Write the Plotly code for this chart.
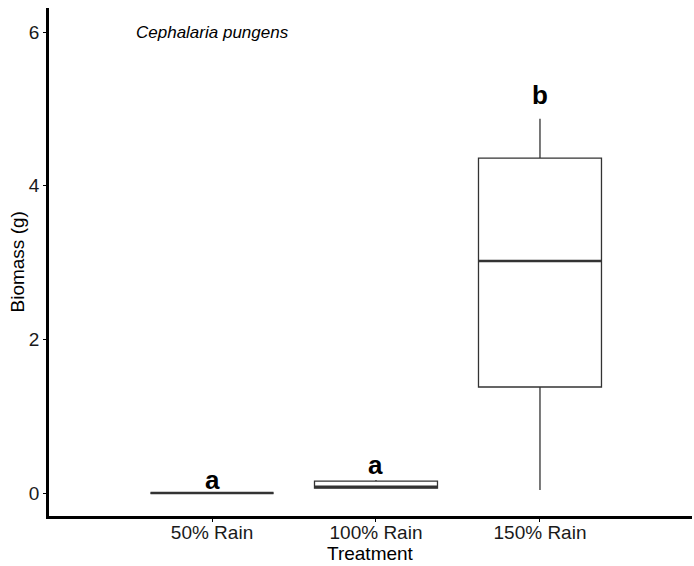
import plotly.graph_objects as go

categories = ["50% Rain", "100% Rain", "150% Rain"]
q1 = [0.0, 0.065, 1.38]
median = [0.0, 0.08, 3.02]
q3 = [0.0, 0.155, 4.36]
lower = [0.0, 0.06, 0.04]
upper = [0.0, 0.17, 4.87]
letters = ["a", "a", "b"]
letter_y = [0.17, 0.36, 5.18]
species = "Cephalaria pungens"

xpos = list(range(len(categories)))
box_w = 0.75
line_col = "#333333"

fig = go.Figure()
fig.add_trace(go.Box(
    x=xpos, q1=q1, median=median, q3=q3, lowerfence=lower, upperfence=upper,
    width=box_w, fillcolor="white", line=dict(color=line_col, width=1.3),
    whiskerwidth=0, showlegend=False, boxpoints=False, hoverinfo="skip",
))
# thicker median lines (ggplot style)
for xi, m in zip(xpos, median):
    fig.add_trace(go.Scatter(
        x=[xi - box_w / 2, xi + box_w / 2], y=[m, m], mode="lines",
        line=dict(color=line_col, width=2.6), showlegend=False, hoverinfo="skip",
    ))

for xi, lab, ly in zip(xpos, letters, letter_y):
    fig.add_annotation(x=xi, y=ly, text="<b>%s</b>" % lab, showarrow=False,
                       font=dict(size=26, color="black", family="Liberation Sans, Arial"))

fig.add_annotation(x=0, y=6.0, text="<i>%s</i>" % species, showarrow=False,
                   font=dict(size=17, color="black", family="Liberation Sans, Arial"))

# axis titles
fig.add_annotation(x=0.5, y=-0.073, xref="paper", yref="paper", text="Treatment",
                   showarrow=False, xanchor="center", yanchor="middle",
                   font=dict(size=19, color="black", family="Liberation Sans, Arial"))
fig.add_annotation(x=-0.049, y=0.5, xref="paper", yref="paper", text="Biomass (g)",
                   showarrow=False, xanchor="center", yanchor="middle", textangle=-90,
                   font=dict(size=19, color="black", family="Liberation Sans, Arial"))

fig.update_layout(
    width=694, height=566,
    margin=dict(l=49, r=2, t=8, b=50),
    paper_bgcolor="white", plot_bgcolor="white",
    font=dict(family="Liberation Sans, Arial", color="black"),
    xaxis=dict(
        range=[-0.994, 2.927], tickvals=xpos, ticktext=categories,
        showgrid=False, zeroline=False, showline=True, linecolor="black", linewidth=2.5,
        ticks="outside", ticklen=3, tickcolor="black", tickwidth=1.2,
        tickfont=dict(size=19, color="#1a1a1a"), ticklabelstandoff=-6,
    ),
    yaxis=dict(
        range=[-0.299, 6.313], tickvals=[0, 2, 4, 6],
        showgrid=False, zeroline=False, showline=True, linecolor="black", linewidth=2.5,
        ticks="outside", ticklen=3, tickcolor="black", tickwidth=1.2,
        tickfont=dict(size=19, color="#1a1a1a"),
    ),
)

fig.write_html("out.html")
